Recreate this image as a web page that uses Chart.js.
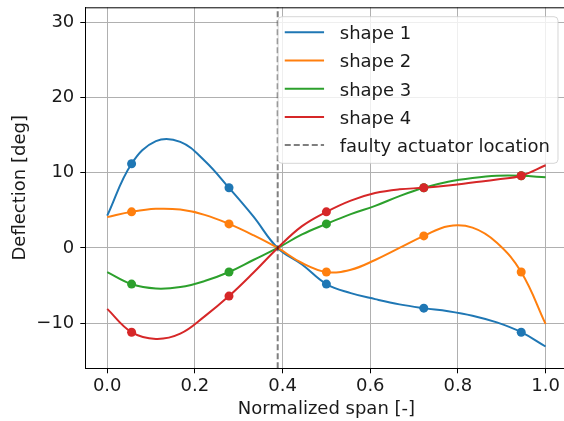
<!DOCTYPE html>
<html><head><meta charset="utf-8">
<script src="https://cdn.jsdelivr.net/npm/chart.js@4/dist/chart.umd.min.js"></script>
<style>html,body{margin:0;padding:0;overflow:hidden;background:#fff}#wrap{width:572px;height:421px}</style>
</head><body><div id="wrap"><canvas id="c" width="572" height="421"></canvas></div>
<script>
// ---- data ----
const spanX = [0, 0.0556, 0.1111, 0.1667, 0.2222, 0.2778, 0.3333, 0.3889, 0.4444, 0.5,
               0.5556, 0.6111, 0.6667, 0.7222, 0.7778, 0.8333, 0.8889, 0.9444, 1.0];
const shape1 = [4.3, 11.2, 14.2, 14.1, 11.6, 8.0, 4.2, 0, -2.2, -4.8,
                -6.0, -6.8, -7.5, -8.0, -8.4, -9.0, -9.9, -11.2, -13.1];
const shape2 = [4.1, 4.8, 5.2, 5.1, 4.4, 3.2, 1.7, 0, -2.0, -3.2,
                -2.9, -1.6, 0.0, 1.6, 2.9, 2.7, 0.7, -3.2, -10.1];
const shape3 = [-3.2, -4.8, -5.4, -5.2, -4.4, -3.2, -1.6, 0, 1.8, 3.2,
                4.5, 5.6, 6.9, 8.0, 8.8, 9.3, 9.6, 9.6, 9.4];
const shape4 = [-8.1, -11.2, -12.1, -11.4, -9.1, -6.4, -3.3, 0, 2.9, 4.8,
                6.3, 7.3, 7.8, 8.0, 8.3, 8.7, 9.1, 9.6, 11.0];
const actuatorX = [0.0556, 0.2778, 0.5, 0.7222, 0.9444];
const actuator1 = [11.2, 8.0, -4.8, -8.0, -11.2];
const actuator2 = [4.8, 3.2, -3.2, 1.6, -3.2];
const actuator3 = [-4.8, -3.2, 3.2, 8.0, 9.6];
const actuator4 = [-11.2, -6.4, 4.8, 8.0, 9.6];
const faultyX = 0.3889;
const seriesNames = ['shape 1', 'shape 2', 'shape 3', 'shape 4'];
const faultyName = 'faulty actuator location';
const xTicks = [0, 0.2, 0.4, 0.6, 0.8, 1.0];
const xTickLabels = ['0.0', '0.2', '0.4', '0.6', '0.8', '1.0'];
const yTicks = [-10, 0, 10, 20, 30];
const yTickLabels = ['\u221210', '0', '10', '20', '30'];
const xRange = [-0.05, 1.05];
const yRange = [-16, 32];
const xTitle = 'Normalized span [-]';
const yTitle = 'Deflection [deg]';

// ---- styling ----
const colors = ['#1f77b4', '#ff7f0e', '#2ca02c', '#d62728'];
const FONT = '"DejaVu Sans", sans-serif';
const curves = [shape1, shape2, shape3, shape4];
const marks = [actuator1, actuator2, actuator3, actuator4];

const datasets = [];
let z = 100;
curves.forEach((vals, i) => {
  datasets.push({
    label: seriesNames[i], legendLabel: seriesNames[i],
    data: spanX.map((x, j) => ({x, y: vals[j]})),
    borderColor: colors[i], backgroundColor: colors[i], borderWidth: 2,
    pointRadius: 0, tension: 0.4, fill: false, order: z--
  });
  datasets.push({
    label: seriesNames[i] + ' actuators',
    data: actuatorX.map((x, j) => ({x, y: marks[i][j]})),
    borderColor: colors[i], backgroundColor: colors[i], showLine: false,
    pointRadius: 4.5, pointBorderWidth: 0, pointHoverRadius: 4.5, order: z--
  });
});
datasets.push({
  label: faultyName, legendLabel: faultyName,
  data: [{x: faultyX, y: yRange[0]}, {x: faultyX, y: yRange[1]}],
  borderColor: 'rgba(0,0,0,0.5)', backgroundColor: 'rgba(0,0,0,0.5)',
  borderWidth: 2, borderDash: [6, 3], pointRadius: 0, order: z--
});

const framePlugin = {
  id: 'frame',
  afterDatasetsDraw(chart) {
    const ctx = chart.ctx, a = chart.chartArea;
    ctx.save();
    ctx.strokeStyle = '#000'; ctx.lineWidth = 1;
    ctx.beginPath(); ctx.moveTo(a.left, a.top + 0.5); ctx.lineTo(a.right, a.top + 0.5); ctx.stroke();
    ctx.beginPath(); ctx.moveTo(a.right, a.top); ctx.lineTo(a.right, a.bottom); ctx.stroke();
    ctx.restore();
  },
  afterDraw(chart) {
    const ctx = chart.ctx, a = chart.chartArea;
    const items = chart.data.datasets.filter(d => d.legendLabel);
    ctx.save();
    ctx.font = '18px ' + FONT;
    const tw = Math.max(...items.map(d => ctx.measureText(d.legendLabel).width));
    const right = a.right - 9.5, top = a.top + 9.4;
    const w = 6.7 + 39.3 + 15.7 + tw + 8, h = 146.6;
    const left = right - w;
    ctx.beginPath();
    ctx.roundRect(left, top, w, h, 4);
    ctx.fillStyle = 'rgba(255,255,255,0.8)'; ctx.fill();
    ctx.strokeStyle = 'rgba(204,204,204,0.8)'; ctx.lineWidth = 1; ctx.stroke();
    items.forEach((d, i) => {
      const y = top + 15.6 + i * 28.2;
      ctx.beginPath();
      ctx.setLineDash(d.borderDash || []);
      ctx.strokeStyle = d.borderColor; ctx.lineWidth = 2;
      ctx.moveTo(left + 6.7, y); ctx.lineTo(left + 46, y); ctx.stroke();
      ctx.setLineDash([]);
      ctx.fillStyle = '#1a1a1a'; ctx.textBaseline = 'alphabetic'; ctx.textAlign = 'left';
      ctx.fillText(d.legendLabel, left + 61.7, y + 6.8);
    });
    ctx.restore();
  }
};

new Chart(document.getElementById('c'), {
  type: 'line',
  data: {datasets},
  options: {
    responsive: false, animation: false, devicePixelRatio: 1,
    layout: {padding: {left: 0, top: 7.3, right: 3.3, bottom: 0}},
    plugins: {legend: {display: false}, tooltip: {enabled: false}},
    scales: {
      x: {
        type: 'linear', min: xRange[0], max: xRange[1],
        afterBuildTicks: s => { s.ticks = xTicks.map(v => ({value: v})); },
        afterFit: s => { s.height = 52.7; s.paddingLeft = 0; s.paddingRight = 0; },
        ticks: {font: {family: FONT, size: 18}, color: '#1a1a1a', padding: 2, maxRotation: 0,
                callback: v => xTickLabels[xTicks.indexOf(v)]},
        grid: {color: '#b0b0b0', lineWidth: 1, tickColor: '#000', tickLength: 5, drawTicks: true},
        border: {color: '#000', width: 1},
        title: {display: true, text: xTitle, font: {family: FONT, size: 18}, color: '#1a1a1a', padding: {top: 0, bottom: 0.4}}
      },
      y: {
        type: 'linear', min: yRange[0], max: yRange[1],
        afterBuildTicks: s => { s.ticks = yTicks.map(v => ({value: v})); },
        afterFit: s => { s.width = 85.3; s.paddingTop = 0; s.paddingBottom = 0; },
        ticks: {font: {family: FONT, size: 18}, color: '#1a1a1a', padding: 6,
                callback: v => yTickLabels[yTicks.indexOf(v)]},
        grid: {color: '#b0b0b0', lineWidth: 1, tickColor: '#000', tickLength: 5, drawTicks: true},
        border: {color: '#000', width: 1},
        title: {display: true, text: yTitle, font: {family: FONT, size: 18}, color: '#1a1a1a', padding: {top: 9.7, bottom: 0}}
      }
    }
  },
  plugins: [framePlugin]
});
</script></body></html>
